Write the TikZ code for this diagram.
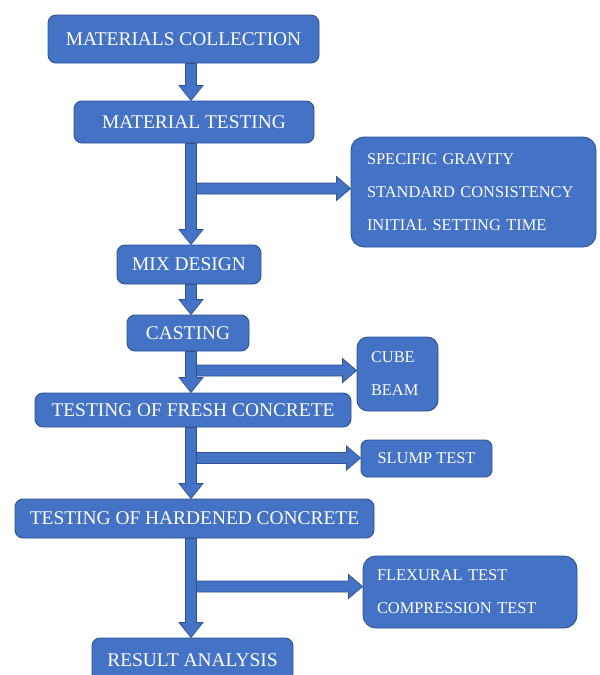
\documentclass[tikz,border=0pt]{standalone}
\usepackage{fontspec}
\setmainfont{Liberation Serif}
\usetikzlibrary{calc}
\definecolor{boxfill}{HTML}{4472C4}
\definecolor{boxline}{HTML}{2F528F}
\tikzset{
  mainbox/.style={draw=boxline, fill=boxfill, line width=0.9pt, rounded corners=8pt,
    text=white, font=\fontsize{19.4}{22}\selectfont, inner sep=0pt},
  sidebox/.style={draw=boxline, fill=boxfill, line width=0.9pt, rounded corners=13pt,
    text=white, font=\fontsize{16.4}{33}\selectfont, inner sep=0pt, align=left},
  smallbox/.style={draw=boxline, fill=boxfill, line width=0.9pt, rounded corners=7pt,
    text=white, font=\fontsize{16.4}{20}\selectfont, inner sep=0pt},
  barrow/.style={draw=boxline, fill=boxfill, line width=0.7pt, line join=miter},
}
% vertical block arrow: centre x, from node, to node
\newcommand\vflow[3]{%
  \path let \p1=(#2.south), \p2=(#3.north) in [barrow]
    ({#1pt-5.5pt},\y1) -- ({#1pt+5.5pt},\y1) -- ({#1pt+5.5pt},{\y2+15pt})
    -- ({#1pt+12pt},{\y2+15pt}) -- (#1pt,\y2) -- ({#1pt-12pt},{\y2+15pt})
    -- ({#1pt-5.5pt},{\y2+15pt}) -- cycle;}
% horizontal block arrow: start coordinate, target node
\newcommand\hflow[2]{%
  \path let \p1=(#1), \p2=(#1 -| #2.west) in [barrow]
    (\x1,{\y1-5.5pt}) -- ({\x2-14pt},{\y1-5.5pt}) -- ({\x2-14pt},{\y1-12pt})
    -- (\x2,\y1) -- ({\x2-14pt},{\y1+12pt}) -- ({\x2-14pt},{\y1+5.5pt})
    -- (\x1,{\y1+5.5pt}) -- cycle;}
\begin{document}
\begin{tikzpicture}[x=1pt,y=1pt]
\useasboundingbox (0,0) rectangle (600,-675);
\clip (0,0) rectangle (600,-675);
\fill[white] (0,0) rectangle (600,-675);

% main flow boxes
\node[mainbox, minimum width=271pt, minimum height=48pt] (mc) at (183.5,-39) {MATERIALS COLLECTION};
\node[mainbox, minimum width=240pt, minimum height=42pt] (mt) at (194,-122) {MATERIAL TESTING};
\node[mainbox, minimum width=144pt, minimum height=39pt] (md) at (189,-264.5) {MIX DESIGN};
\node[mainbox, minimum width=122pt, minimum height=36pt] (ca) at (188,-333) {CASTING};
\node[mainbox, minimum width=316pt, minimum height=34pt] (fr) at (193,-410) {TESTING OF FRESH CONCRETE};
\node[mainbox, minimum width=359pt, minimum height=39pt] (hc) at (194.5,-518.5) {TESTING OF HARDENED CONCRETE};
\node[mainbox, minimum width=201pt, minimum height=44pt] (ra) at (192.5,-660) {RESULT ANALYSIS};

% side boxes
\node[sidebox, minimum width=245pt, minimum height=110pt, text width=213pt] (spec) at (473.5,-192)
  {SPECIFIC GRAVITY\\STANDARD CONSISTENCY\\INITIAL SETTING TIME};
\node[sidebox, rounded corners=11pt, minimum width=81pt, minimum height=74pt, text width=53pt] (cube) at (397.5,-374)
  {CUBE\\BEAM};
\node[smallbox, minimum width=131pt, minimum height=37pt] (slump) at (426.5,-458.5) {SLUMP TEST};
\node[sidebox, minimum width=214pt, minimum height=72pt, text width=186pt] (flex) at (470,-592)
  {FLEXURAL TEST\\COMPRESSION TEST};

% branch start points on the main shaft
\coordinate (b1) at (196.5,-188.5);
\coordinate (b2) at (196.5,-370.5);
\coordinate (b3) at (196.5,-458);
\coordinate (b4) at (196.5,-586.5);

% vertical arrows
\vflow{191}{mc}{mt}
\vflow{191}{mt}{md}
\vflow{191}{md}{ca}
\vflow{191}{ca}{fr}
\vflow{191}{fr}{hc}
\vflow{191}{hc}{ra}

% horizontal arrows
\hflow{b1}{spec}
\hflow{b2}{cube}
\hflow{b3}{slump}
\hflow{b4}{flex}
\end{tikzpicture}
\end{document}
